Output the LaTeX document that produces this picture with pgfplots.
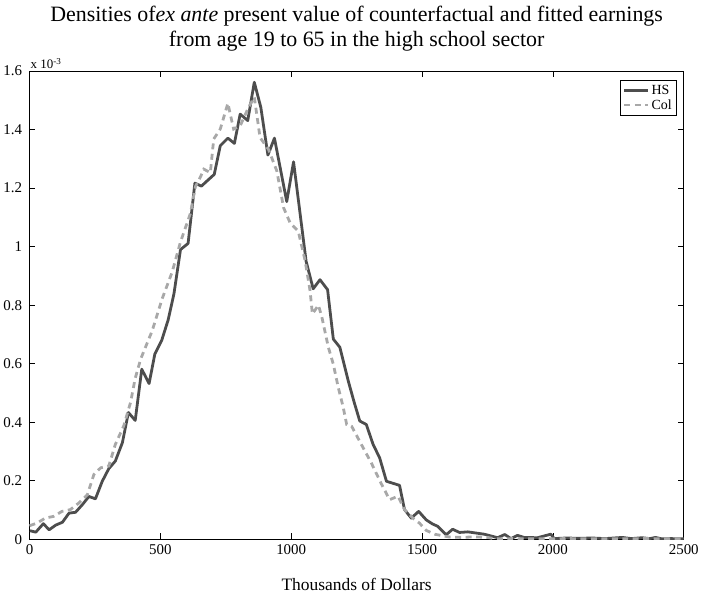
\documentclass[border=0pt]{standalone}
\usepackage{fontspec}
\setmainfont{Liberation Serif}
\usepackage{pgfplots}
\pgfplotsset{compat=1.18}

\definecolor{hsgray}{RGB}{77,77,77}
\definecolor{colgray}{RGB}{168,168,168}

% values in units of 10^-3
\pgfplotstableread{
x y
2 0.029
24 0.024
53 0.053
75 0.032
100 0.048
126 0.058
151 0.089
176 0.092
202 0.118
227 0.146
252 0.138
278 0.198
303 0.241
328 0.267
355 0.330
378 0.433
404 0.406
429 0.581
457 0.532
479 0.633
505 0.679
530 0.750
552 0.839
577 0.990
606 1.011
632 1.217
657 1.207
685 1.230
706 1.247
729 1.345
758 1.371
783 1.353
805 1.453
834 1.431
859 1.562
884 1.476
911 1.313
936 1.371
983 1.154
1009 1.290
1033 1.120
1057 0.950
1084 0.856
1110 0.887
1139 0.853
1161 0.684
1186 0.656
1218 0.541
1240 0.470
1262 0.404
1287 0.392
1313 0.324
1338 0.278
1364 0.198
1414 0.184
1433 0.101
1459 0.072
1487 0.095
1516 0.066
1540 0.052
1560 0.044
1592 0.015
1617 0.034
1643 0.023
1675 0.025
1738 0.017
1789 0.005
1816 0.016
1840 0.002
1865 0.013
1890 0.006
1941 0.005
1992 0.017
2005 0.002
2050 0.004
2100 0.003
2150 0.004
2200 0.002
2265 0.006
2300 0.002
2341 0.005
2370 0.002
2392 0.006
2417 0.001
2450 0.002
2500 0.001
}\hsdata

\pgfplotstableread{
x y
0 0.046
29 0.055
60 0.072
92 0.078
124 0.095
156 0.101
189 0.124
221 0.152
246 0.221
272 0.244
303 0.250
328 0.324
360 0.387
386 0.467
404 0.550
425 0.616
469 0.713
507 0.822
545 0.913
577 1.016
615 1.114
634 1.205
654 1.240
666 1.265
691 1.253
704 1.368
729 1.402
758 1.490
780 1.402
805 1.413
837 1.476
859 1.511
881 1.373
913 1.333
945 1.259
971 1.133
996 1.081
1027 1.053
1053 0.953
1072 0.850
1081 0.770
1104 0.800
1117 0.760
1142 0.656
1161 0.598
1180 0.518
1199 0.450
1212 0.392
1231 0.386
1268 0.324
1306 0.261
1344 0.190
1376 0.135
1408 0.147
1433 0.101
1465 0.072
1490 0.055
1516 0.030
1548 0.017
1600 0.008
1650 0.006
1700 0.008
1750 0.006
1780 0.001
1850 0.002
1950 0.001
2050 0.002
2200 0.001
2350 0.002
2500 0.001
}\coldata

\begin{document}
\begin{tikzpicture}
\begin{axis}[
    name=ax,
    scale only axis,
    width=657pt, height=470pt,
    xmin=0, xmax=2500,
    ymin=0, ymax=1.6,
    xtick={0,500,1000,1500,2000,2500},
    ytick={0,0.2,0.4,0.6,0.8,1,1.2,1.4,1.6},
    yticklabels={0,0.2,0.4,0.6,0.8,1,1.2,1.4,1.6},
    /pgf/number format/assume math mode=true,
    /pgf/number format/1000 sep={},
    tick align=inside,
    major tick length=6pt,
    tick style={black, line width=0.6pt},
    axis line style={line width=0.9pt},
    tick label style={font=\fontsize{15}{16}\selectfont},
    xticklabel style={yshift=-2pt},
    yticklabel style={xshift=-4pt},
    xlabel={Thousands of Dollars},
    xlabel style={font=\fontsize{17.5}{19}\selectfont, yshift=-17pt},
    title={Densities of\textit{ex ante} present value of counterfactual and fitted earnings\\from age 19 to 65 in the high school sector},
    title style={align=center, font=\fontsize{22}{25}\selectfont, yshift=8pt, inner ysep=6pt},
    legend style={at={(axis description cs:0.989,0.981)}, anchor=north east,
        draw=black, line width=0.6pt, fill=white,
        font=\fontsize{14}{15}\selectfont,
        row sep=0pt, inner sep=2.5pt,
        cells={anchor=west}},
    legend image code/.code={\draw[#1] (0pt,0pt) -- (24pt,0pt);},
]
% high school
\addplot[hsgray, line width=2.8pt, line join=round] table[x=x, y=y] {\hsdata};
% college
\addplot[colgray, line width=2.8pt, dash pattern=on 6pt off 4.5pt] table[x=x, y=y] {\coldata};
\legend{HS, Col}
\end{axis}
\node[anchor=south west, font=\fontsize{13}{13}\selectfont, inner sep=1pt] at ([yshift=1pt]ax.north west) {x 10\textsuperscript{-3}};
\end{tikzpicture}
\end{document}
